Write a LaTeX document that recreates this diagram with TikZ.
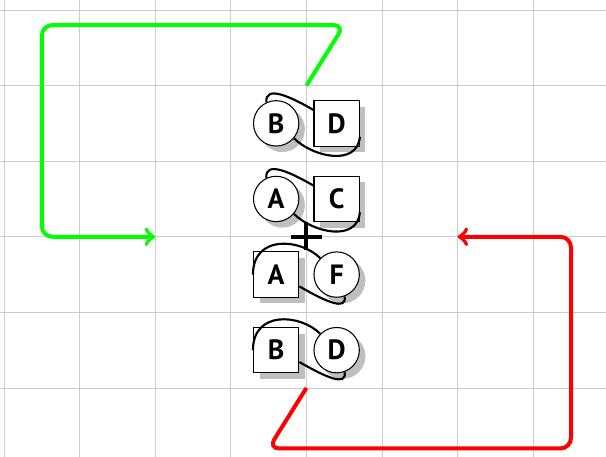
\documentclass[tikz,border=0pt]{standalone}
\usepackage{fontspec}
\setsansfont{PT Sans}
\usetikzlibrary{shadows}
\tikzset{
  nodebase/.style={draw, fill=white, line width=0.4pt, inner sep=0pt, minimum size=0.6cm,
    font=\sffamily\bfseries\fontsize{10.5}{12}\selectfont,
    drop shadow={shadow xshift=0.08cm, shadow yshift=-0.08cm, opacity=0.5, fill=black!50}},
  circ/.style={nodebase, circle},
  sq/.style={nodebase, rectangle},
  loopline/.style={draw=black, thick},
  movearrow/.style={line width=1.5pt, rounded corners=4pt, ->},
  gridline/.style={draw=gray!40, line width=0.3pt}
}
\begin{document}
\begin{tikzpicture}
\useasboundingbox (-0.053,0.087) rectangle (7.963,6.132);
\draw[gridline] (-0.053,0.087) grid (7.963,6.132);

% nodes
\node[circ] (B1) at (3.6,4.5) {B};
\node[sq]   (D1) at (4.4,4.5) {D};
\node[circ] (A2) at (3.6,3.5) {A};
\node[sq]   (C2) at (4.4,3.5) {C};
\node[sq]   (A3) at (3.6,2.5) {A};
\node[circ] (F3) at (4.4,2.5) {F};
\node[sq]   (B4) at (3.6,1.5) {B};
\node[circ] (D4) at (4.4,1.5) {D};

% loops, upper rows
\path[loopline] (B1.115) .. controls +(95:0.24) and +(150:0.33) .. (D1.150);
\path[loopline] (B1.-40) .. controls +(-45:0.35) and +(-95:0.4) .. (D1.-30);
\path[loopline] (A2.115) .. controls +(95:0.24) and +(150:0.33) .. (C2.150);
\path[loopline] (A2.-40) .. controls +(-45:0.35) and +(-95:0.4) .. (C2.-30);

% loops, lower rows
\path[loopline] (A3.west) .. controls +(90:0.53) and +(135:0.37) .. (F3.135);
\path[loopline] (A3.-27) .. controls +(-30:0.4) and +(-80:0.2) .. (F3.-70);
\path[loopline] (B4.west) .. controls +(90:0.53) and +(135:0.37) .. (D4.135);
\path[loopline] (B4.-27) .. controls +(-30:0.4) and +(-80:0.2) .. (D4.-70);

% centre cross
\coordinate (ctr) at (4,3);
\draw[line width=1.5pt] ([xshift=-0.2cm]ctr) -- ([xshift=0.2cm]ctr)
                        ([yshift=0.2cm]ctr) -- ([yshift=-0.18cm]ctr);

% arrows
\coordinate (gs) at (4,5);
\coordinate (ge) at (2,3);
\coordinate (rs) at (4,1);
\coordinate (re) at (6,3);
\draw[movearrow, green] (gs) -- (4.5,5.8) -- (0.5,5.8) -- (0.5,3) -- (ge);
\draw[movearrow, red] (rs) -- (3.5,0.2) -- (7.5,0.2) -- (7.5,3) -- (re);
\end{tikzpicture}
\end{document}
